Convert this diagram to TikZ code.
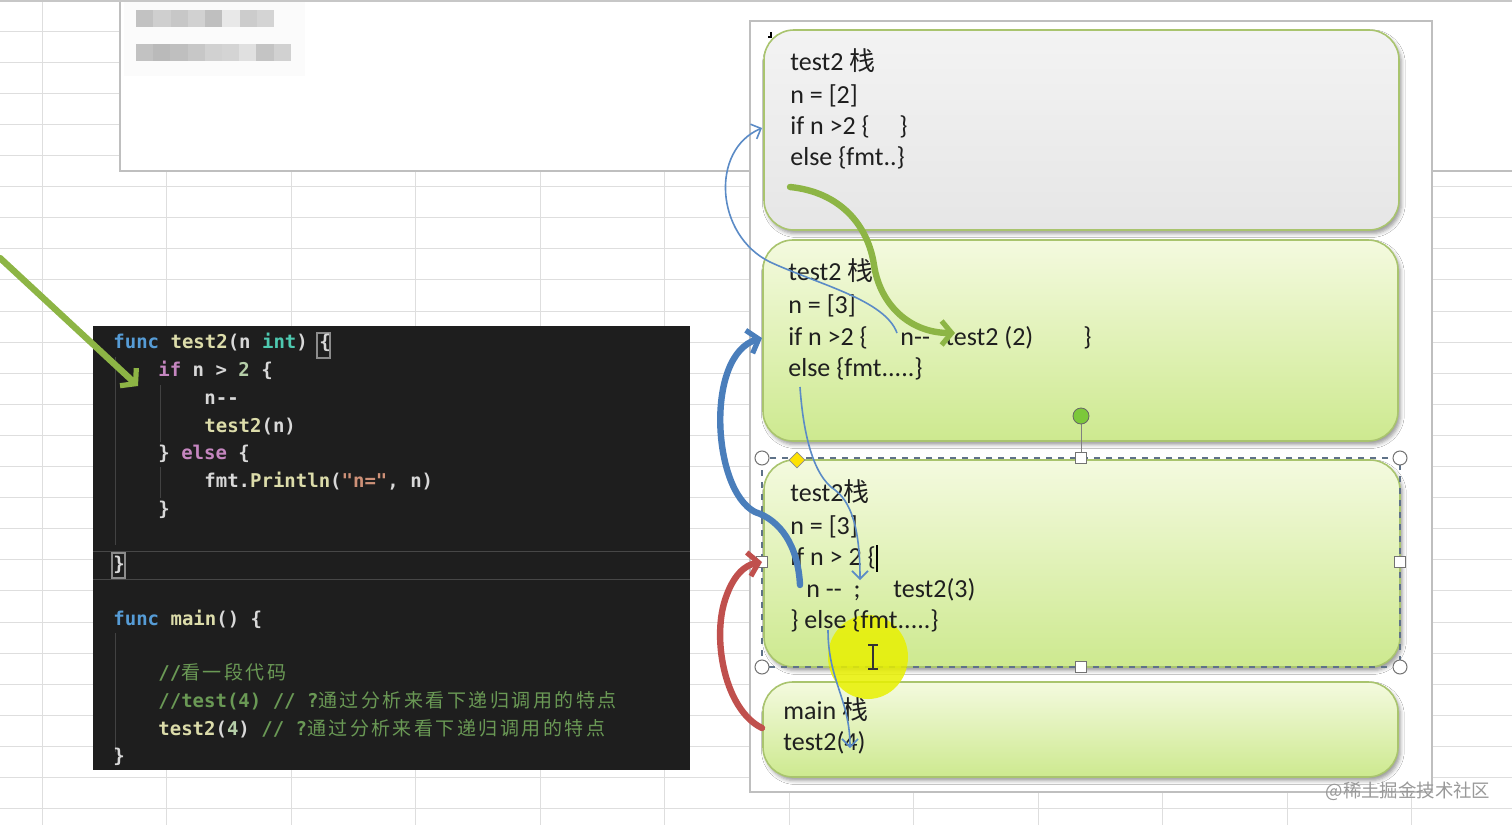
\documentclass[tikz,border=0pt]{standalone}
\usepackage{fontspec}
\setmainfont{Carlito}[Ligatures=TeXOff]
\newfontfamily\cjk{Noto Sans CJK SC}
\newfontfamily\codefont{DejaVu Sans Mono}[Ligatures=TeXOff]
\newfontfamily\codecjk{Noto Sans CJK SC}[LetterSpace=13]
\usetikzlibrary{arrows.meta,shadows.blur,fit,shapes.geometric}
\definecolor{codebg}{HTML}{1E1E1E}
\definecolor{codetxt}{HTML}{D8D8D8}
\definecolor{ckwc}{HTML}{569CD6}
\definecolor{cfnc}{HTML}{DCDCAA}
\definecolor{ctyc}{HTML}{4EC9B0}
\definecolor{cifc}{HTML}{C586C0}
\definecolor{cnumc}{HTML}{B5CEA8}
\definecolor{cstrc}{HTML}{CE9178}
\definecolor{ccmtc}{HTML}{6A9955}
\definecolor{boxedge}{HTML}{A9C46E}
\definecolor{gtop}{HTML}{F4FADF}
\definecolor{gbot}{HTML}{CDE98F}
\definecolor{ytop}{HTML}{F3F3F3}
\definecolor{ybot}{HTML}{E6E6E6}
\definecolor{arrgreen}{HTML}{8DB545}
\definecolor{thinblue}{HTML}{5B8BC6}
\definecolor{thickblue}{HTML}{4A7EBB}
\definecolor{arrred}{HTML}{C0504D}
\definecolor{selframe}{HTML}{5F7288}
\definecolor{hilite}{HTML}{E8F000}
\definecolor{rotgreen}{HTML}{7CC83A}
\newcommand\ckw[1]{\textcolor{ckwc}{#1}}
\newcommand\cfn[1]{\textcolor{cfnc}{#1}}
\newcommand\cty[1]{\textcolor{ctyc}{#1}}
\newcommand\cif[1]{\textcolor{cifc}{#1}}
\newcommand\cnum[1]{\textcolor{cnumc}{#1}}
\newcommand\cstr[1]{\textcolor{cstrc}{#1}}
\newcommand\ccmt[1]{\textcolor{ccmtc}{#1}}
\newcommand\zc[1]{{\codecjk\mdseries #1}}
\newcommand\zhan{{\cjk 栈}}
\tikzset{
  gridline/.style={draw=black!13, line width=0.5pt},
  code/.style={anchor=base west, inner sep=0, font=\codefont\bfseries\fontsize{9.5}{11}\selectfont, text=codetxt},
  stk/.style={anchor=base west, inner sep=0, font=\fontsize{13}{15}\selectfont, text=black!88},
  stackbox/.style={draw=boxedge, line width=0.8pt, rounded corners=15pt, inner sep=0,
    blur shadow={shadow xshift=1.2pt, shadow yshift=-1.8pt}},
  greenbox/.style={stackbox, top color=gtop, bottom color=gbot},
  graybox/.style={stackbox, top color=ytop, bottom color=ybot},
  garr/.style={draw=arrgreen, line width=3.2pt, line cap=round, -{Straight Barb[length=5pt,width=12pt,line width=2.6pt]}},
  barr/.style={draw=thickblue, line width=3.2pt, line cap=round, -{Straight Barb[length=5pt,width=12pt,line width=2.6pt]}},
  rarr/.style={draw=arrred, line width=3.2pt, line cap=round, -{Straight Barb[length=5pt,width=12pt,line width=2.6pt]}},
  tarr/.style={draw=thinblue, line width=0.8pt, -{Straight Barb[length=4pt,width=8pt]}},
  handlec/.style={circle, draw=black!55, fill=white, line width=0.5pt, minimum size=7pt, inner sep=0},
  handles/.style={rectangle, draw=black!55, fill=white, line width=0.5pt, minimum size=5.5pt, inner sep=0},
}
\begin{document}
\begin{tikzpicture}[x=0.5pt,y=-0.5pt]
\useasboundingbox (0,0) rectangle (1512,825);
\fill[white] (0,0) rectangle (1512,825);
% spreadsheet grid
\foreach \i in {1,...,26} \draw[gridline] (0,{\i*31.1}) -- (1512,{\i*31.1});
\foreach \i in {0,...,11} \draw[gridline] ({42+\i*124.5},0) -- ({42+\i*124.5},825);
% top panel
\draw[fill=white, draw=black!25, line width=0.6pt] (120,-5) rectangle (1520,171);
\draw[draw=black!22, line width=0.8pt] (0,1) -- (1512,1);
\fill[black!1.5] (124,2) rectangle (305,76);
% blurred (pixelated) text
\foreach \x/\s in {0/24,1/19,2/22,3/18,4/25,5/9,6/20,7/17}
  \fill[black!\s] ({136+\x*17.25},10) rectangle ({136+(\x+1)*17.25},27);
\foreach \x/\s in {0/24,1/27,2/25,3/22,4/18,5/17,6/12,7/23,8/18}
  \fill[black!\s] ({136+\x*17.2},44) rectangle ({136+(\x+1)*17.2},61);
% code panel
\node[fit={(93,326) (690,770)}, inner sep=0, fill=codebg] (codepanel) {};
\draw[line width=0.5pt, draw=white!18!codebg] (93,551) -- (690,551) (93,579) -- (690,579);
\draw[draw=white!16!codebg, line width=0.5pt] (115,357) -- (115,545) (160,385) -- (160,442) (160,467) -- (160,498) (115,633) -- (115,752);
\draw[draw=black!45, line width=0.6pt] (112,553) rectangle (125,578);
\draw[draw=black!45, line width=0.6pt] (317,333) rectangle (330,358);
\node[code] (c1) at (113,348) {\ckw{func} \cfn{test2}(n \cty{int}) \{};
\node[code] (c2) at (158,376) {\cif{if} n > \cnum{2} \{};
\node[code] (c3) at (204,404) {n--};
\node[code] (c4) at (204,432) {\cfn{test2}(n)};
\node[code] (c5) at (158,459) {\} \cif{else} \{};
\node[code] (c6) at (204,487) {fmt.\cfn{Println}(\cstr{"n="}, n)};
\node[code] (c7) at (158,515) {\}};
\node[code] (c8) at (113,570) {\}};
\node[code] (c9) at (113,625) {\ckw{func} \cfn{main}() \{};
\node[code] (c10) at (158,679) {\ccmt{//\zc{看一段代码}}};
\node[code] (c11) at (158,707) {\ccmt{//test(4) // ?\zc{通过分析来看下递归调用的特点}}};
\node[code] (c12) at (158,735) {\cfn{test2}(\cnum{4}) \ccmt{// ?\zc{通过分析来看下递归调用的特点}}};
\node[code] (c13) at (113,762) {\}};
% right panel
\node[fit={(750,21) (1432,792)}, inner sep=0, draw=black!25, line width=0.6pt, fill=white] (panel) {};
\draw[line width=0.6pt] (771,32) -- (771,37) -- (768,37);
% stack boxes
\node[graybox, fit={(764,30) (1399,230)}] (b1) {};
\node[greenbox, fit={(763,240) (1398,441)}] (b2) {};
\node[greenbox, fit={(764,460) (1400,667)}] (b3) {};
\node[greenbox, fit={(763,682) (1398,777)}] (b4) {};
% selection frame of box 3
\draw[selframe, dashed, line width=0.6pt] (762,458) rectangle (1400,667);
\draw[black!50, line width=0.5pt] (1081,424) -- (1081,453);
\node[circle, draw=black!60, fill=rotgreen, minimum size=8pt, inner sep=0] (rot) at (1081,416) {};
\node[handlec] (h1) at (762,458) {};
\node[handlec] (h2) at (1400,458) {};
\node[handlec] (h3) at (762,667) {};
\node[handlec] (h4) at (1400,667) {};
\node[handles] (h5) at (1081,458) {};
\node[handles] (h6) at (762,562) {};
\node[handles] (h7) at (1400,562) {};
\node[handles] (h8) at (1081,667) {};
\node[diamond, draw=black!45, fill=yellow!85!orange, minimum size=8pt, inner sep=0, line width=0.4pt] (dm) at (797,460) {};
% yellow mouse highlight
\fill[hilite, opacity=0.85] (868,657) ellipse [x radius=40, y radius=42];
% texts in stack boxes
\node[stk] (t11) at (790,70) {test2 \zhan};
\node[stk] (t12) at (790,103) {n = [2]};
\node[stk] (t13) at (790,134) {if n >2 \{};
\node[stk] (t13b) at (899,134) {\}};
\node[stk] (t14) at (790,165) {else \{fmt..\}};
\node[stk] (t21) at (788,280) {test2 \zhan};
\node[stk] (t22) at (788,313) {n = [3]};
\node[stk] (t23) at (788,345) {if n >2 \{};
\node[stk] (t23b) at (900,345) {n--};
\node[stk] (t23c) at (945,345) {test2 (2)};
\node[stk] (t23d) at (1083,345) {\}};
\node[stk] (t24) at (788,376) {else \{fmt.....\}};
\node[stk] (t31) at (790,501) {test2\zhan};
\node[stk] (t32) at (790,534) {n = [3]};
\node[stk] (t33) at (790,565) {if n > 2 \{};
\draw[black, line width=0.7pt] (877,545) -- (877,572);
\node[stk] (t34) at (806,597) {n --\ \ ;};
\node[stk] (t34b) at (893,597) {test2(3)};
\node[stk] (t35) at (790,628) {\} else \{fmt.....\}};
\node[stk] (t41) at (783,719) {main \zhan};
\node[stk] (t42) at (783,750) {test2(4)};
% I-beam cursor
\draw[black!80, line width=0.8pt] (868,645) -- (878,645) (873,645) -- (873,669) (868,669) -- (878,669);
% arrow end points
\coordinate (ga0) at (0,258);
\coordinate (ga1) at (138,386);
\coordinate (g1s) at (790,187);
\coordinate (g1e) at (955,333);
\coordinate (tb1s) at (897,333);
\coordinate (tb1e) at (762,128);
\coordinate (tb2s) at (800,387);
\coordinate (tb2e) at (860,580);
\coordinate (tb3s) at (828,630);
\coordinate (tb3e) at (850,748);
\coordinate (bbs) at (800,585);
\coordinate (bbe) at (762,338);
\coordinate (rrs) at (762,728);
\coordinate (rre) at (762,562);
% connectors
\draw[garr] (ga0) -- (ga1);
\draw[tarr] (tb1s) .. controls (885,300) and (820,285) .. (770,262) .. controls (715,235) and (710,150) .. (tb1e);
\draw[garr] (g1s) .. controls (840,192) and (868,225) .. (874,265) .. controls (880,305) and (910,333) .. (g1e);
\draw[tarr] (tb2s) .. controls (803,430) and (812,475) .. (835,490) .. controls (855,505) and (860,540) .. (tb2e);
\draw[tarr] (tb3s) .. controls (828,680) and (850,700) .. (tb3e);
\draw[barr] (bbs) .. controls (798,545) and (780,520) .. (755,512) .. controls (712,490) and (705,355) .. (bbe);
\draw[rarr] (rrs) .. controls (725,710) and (712,640) .. (725,600) .. controls (733,575) and (745,565) .. (rre);
% watermark
\node[font=\cjk\fontsize{9.2}{11}\selectfont, text=black!40, inner sep=0] (wm) at (1408,791) {@稀土掘金技术社区};
\end{tikzpicture}
\end{document}
